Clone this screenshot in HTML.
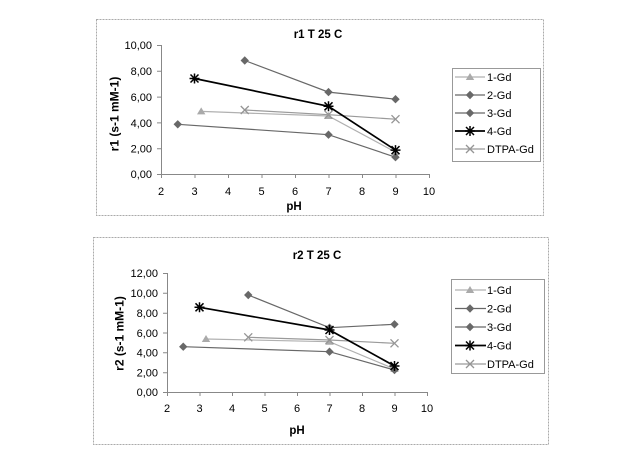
<!DOCTYPE html>
<html><head><meta charset="utf-8"><style>
html,body{margin:0;padding:0;background:#fff;}
svg{display:block;font-family:"Liberation Sans",Arial,sans-serif;}
</style></head><body>
<svg width="636" height="457" viewBox="0 0 636 457" xmlns="http://www.w3.org/2000/svg">
<rect x="0" y="0" width="636" height="457" fill="#fff"/>
<defs>
<g id="dia"><path d="M0,-4.2 L4.2,0 L0,4.2 L-4.2,0Z" fill="#686868"/></g>
<g id="tri"><path d="M0,-4 L4.2,3 L-4.2,3Z" fill="#aaaaaa"/></g>
<g id="star" stroke="#000" stroke-width="1.5"><path d="M-4,-4L4,4M-4,4L4,-4M0,-5V5M-5,0H5"/></g>
<g id="xm" stroke="#959595" stroke-width="1.3"><path d="M-4,-4L4,4M-4,4L4,-4"/></g>
</defs>

<!-- ===== Chart 1 ===== -->
<rect x="96.5" y="19.5" width="447" height="196" fill="none" stroke="#aaa" stroke-width="1" stroke-dasharray="2,1"/>
<text x="318" y="38" font-size="11.5" font-weight="bold" text-anchor="middle">r1 T 25 C</text>
<g stroke="#888" stroke-width="1" fill="none">
<path d="M161.5,45V174.5H429"/>
<path d="M157,45.5H161M157,71.3H161M157,97.1H161M157,122.9H161M157,148.7H161M157,174.5H161"/>
<path d="M161.5,174V178M195,174V178M228.5,174V178M262,174V178M295.5,174V178M329,174V178M362.5,174V178M396,174V178M429.5,174V178"/>
</g>
<g font-size="11" text-anchor="end">
<text x="152" y="49">10,00</text><text x="152" y="75">8,00</text><text x="152" y="101">6,00</text><text x="152" y="127">4,00</text><text x="152" y="152.5">2,00</text><text x="152" y="178">0,00</text>
</g>
<g font-size="11" text-anchor="middle">
<text x="161" y="195">2</text><text x="194.5" y="195">3</text><text x="228" y="195">4</text><text x="261.5" y="195">5</text><text x="295" y="195">6</text><text x="328.5" y="195">7</text><text x="362" y="195">8</text><text x="395.5" y="195">9</text><text x="429" y="195">10</text>
</g>
<text x="294" y="210" font-size="11.5" font-weight="bold" text-anchor="middle">pH</text>
<text transform="translate(118.5,114) rotate(-90)" font-size="12" font-weight="bold" text-anchor="middle">r1 (s-1 mM-1)</text>

<g fill="none">
<polyline points="201.2,111.4 328.5,116 395.5,152.1" stroke="#b0b0b0" stroke-width="1.2"/>
<polyline points="244.75,110 328.5,114.7 395.5,119.2" stroke="#9a9a9a" stroke-width="1.2"/>
<polyline points="244.75,60.5 328.5,92.1 395.5,99.2" stroke="#686868" stroke-width="1.2"/>
<polyline points="177.75,124.3 328.5,134.7 395.5,157.2" stroke="#686868" stroke-width="1.2"/>
<polyline points="194.5,78.5 328.5,106.3 395.5,150.1" stroke="#000" stroke-width="1.7"/>
</g>
<use href="#tri" x="201.2" y="111.4"/><use href="#tri" x="328.5" y="116"/><use href="#tri" x="395.5" y="152.1"/>
<use href="#xm" x="244.75" y="110"/><use href="#xm" x="328.5" y="114.7"/><use href="#xm" x="395.5" y="119.2"/>
<use href="#dia" x="244.75" y="60.5"/><use href="#dia" x="328.5" y="92.1"/><use href="#dia" x="395.5" y="99.2"/>
<use href="#dia" x="177.75" y="124.3"/><use href="#dia" x="328.5" y="134.7"/><use href="#dia" x="395.5" y="157.2"/>
<use href="#star" x="194.5" y="78.5"/><use href="#star" x="328.5" y="106.3"/><use href="#star" x="395.5" y="150.1"/>

<rect x="452.5" y="68.5" width="88" height="93" fill="#fff" stroke="#999" stroke-width="1"/>
<g stroke-width="1.2">
<path d="M455,77H485" stroke="#b0b0b0"/><use href="#tri" x="470" y="77"/>
<path d="M455,95H485" stroke="#686868"/><use href="#dia" x="470" y="95"/>
<path d="M455,113H485" stroke="#686868"/><use href="#dia" x="470" y="113"/>
<path d="M455,131H485" stroke="#000" stroke-width="1.7"/><use href="#star" x="470" y="131"/>
<path d="M455,149H485" stroke="#9a9a9a"/><use href="#xm" x="470" y="149"/>
</g>
<g font-size="11">
<text x="487" y="81">1-Gd</text><text x="487" y="99">2-Gd</text><text x="487" y="117">3-Gd</text><text x="487" y="135">4-Gd</text><text x="487" y="153">DTPA-Gd</text>
</g>

<!-- ===== Chart 2 ===== -->
<rect x="93.5" y="237.5" width="455" height="207" fill="none" stroke="#aaa" stroke-width="1" stroke-dasharray="2,1"/>
<text x="317" y="259" font-size="11.5" font-weight="bold" text-anchor="middle">r2 T 25 C</text>
<g stroke="#888" stroke-width="1" fill="none">
<path d="M167.5,273V392.5H427"/>
<path d="M163,273.5H167M163,293.3H167M163,313.2H167M163,333H167M163,352.8H167M163,372.7H167M163,392.5H167"/>
<path d="M167.5,392V396M200,392V396M232.5,392V396M265,392V396M297.5,392V396M330,392V396M362.5,392V396M395,392V396M427.5,392V396"/>
</g>
<g font-size="11" text-anchor="end">
<text x="158" y="277">12,00</text><text x="158" y="297">10,00</text><text x="158" y="317">8,00</text><text x="158" y="337">6,00</text><text x="158" y="356.5">4,00</text><text x="158" y="376.5">2,00</text><text x="158" y="396">0,00</text>
</g>
<g font-size="11" text-anchor="middle">
<text x="167" y="412">2</text><text x="199.5" y="412">3</text><text x="232" y="412">4</text><text x="264.5" y="412">5</text><text x="297" y="412">6</text><text x="329.5" y="412">7</text><text x="362" y="412">8</text><text x="394.5" y="412">9</text><text x="427" y="412">10</text>
</g>
<text x="297" y="434" font-size="11.5" font-weight="bold" text-anchor="middle">pH</text>
<text transform="translate(123.5,333.5) rotate(-90)" font-size="12" font-weight="bold" text-anchor="middle">r2 (s-1 mM-1)</text>

<g fill="none">
<polyline points="206,339 329.5,341.7 394.5,369" stroke="#b0b0b0" stroke-width="1.2"/>
<polyline points="248.25,337.3 329.5,340 394.5,343.3" stroke="#9a9a9a" stroke-width="1.2"/>
<polyline points="248.25,295 329.5,327.7 394.5,324.3" stroke="#686868" stroke-width="1.2"/>
<polyline points="183.25,346.7 329.5,351.7 394.5,370" stroke="#686868" stroke-width="1.2"/>
<polyline points="199.5,307.3 329.5,330 394.5,366" stroke="#000" stroke-width="1.7"/>
</g>
<use href="#tri" x="206" y="339"/><use href="#tri" x="329.5" y="341.7"/><use href="#tri" x="394.5" y="369"/>
<use href="#xm" x="248.25" y="337.3"/><use href="#xm" x="329.5" y="340"/><use href="#xm" x="394.5" y="343.3"/>
<use href="#dia" x="248.25" y="295"/><use href="#dia" x="329.5" y="327.7"/><use href="#dia" x="394.5" y="324.3"/>
<use href="#dia" x="183.25" y="346.7"/><use href="#dia" x="329.5" y="351.7"/><use href="#dia" x="394.5" y="370"/>
<use href="#star" x="199.5" y="307.3"/><use href="#star" x="329.5" y="330"/><use href="#star" x="394.5" y="366"/>

<rect x="451.5" y="279.5" width="93" height="94" fill="#fff" stroke="#999" stroke-width="1"/>
<g stroke-width="1.2">
<path d="M455,290H486" stroke="#b0b0b0"/><use href="#tri" x="470" y="290"/>
<path d="M455,308.5H486" stroke="#686868"/><use href="#dia" x="470" y="308.5"/>
<path d="M455,327H486" stroke="#686868"/><use href="#dia" x="470" y="327"/>
<path d="M455,345.5H486" stroke="#000" stroke-width="1.7"/><use href="#star" x="470" y="345.5"/>
<path d="M455,364H486" stroke="#9a9a9a"/><use href="#xm" x="470" y="364"/>
</g>
<g font-size="11">
<text x="487" y="294">1-Gd</text><text x="487" y="312.5">2-Gd</text><text x="487" y="331">3-Gd</text><text x="487" y="349.5">4-Gd</text><text x="487" y="368">DTPA-Gd</text>
</g>
</svg>
</body></html>
